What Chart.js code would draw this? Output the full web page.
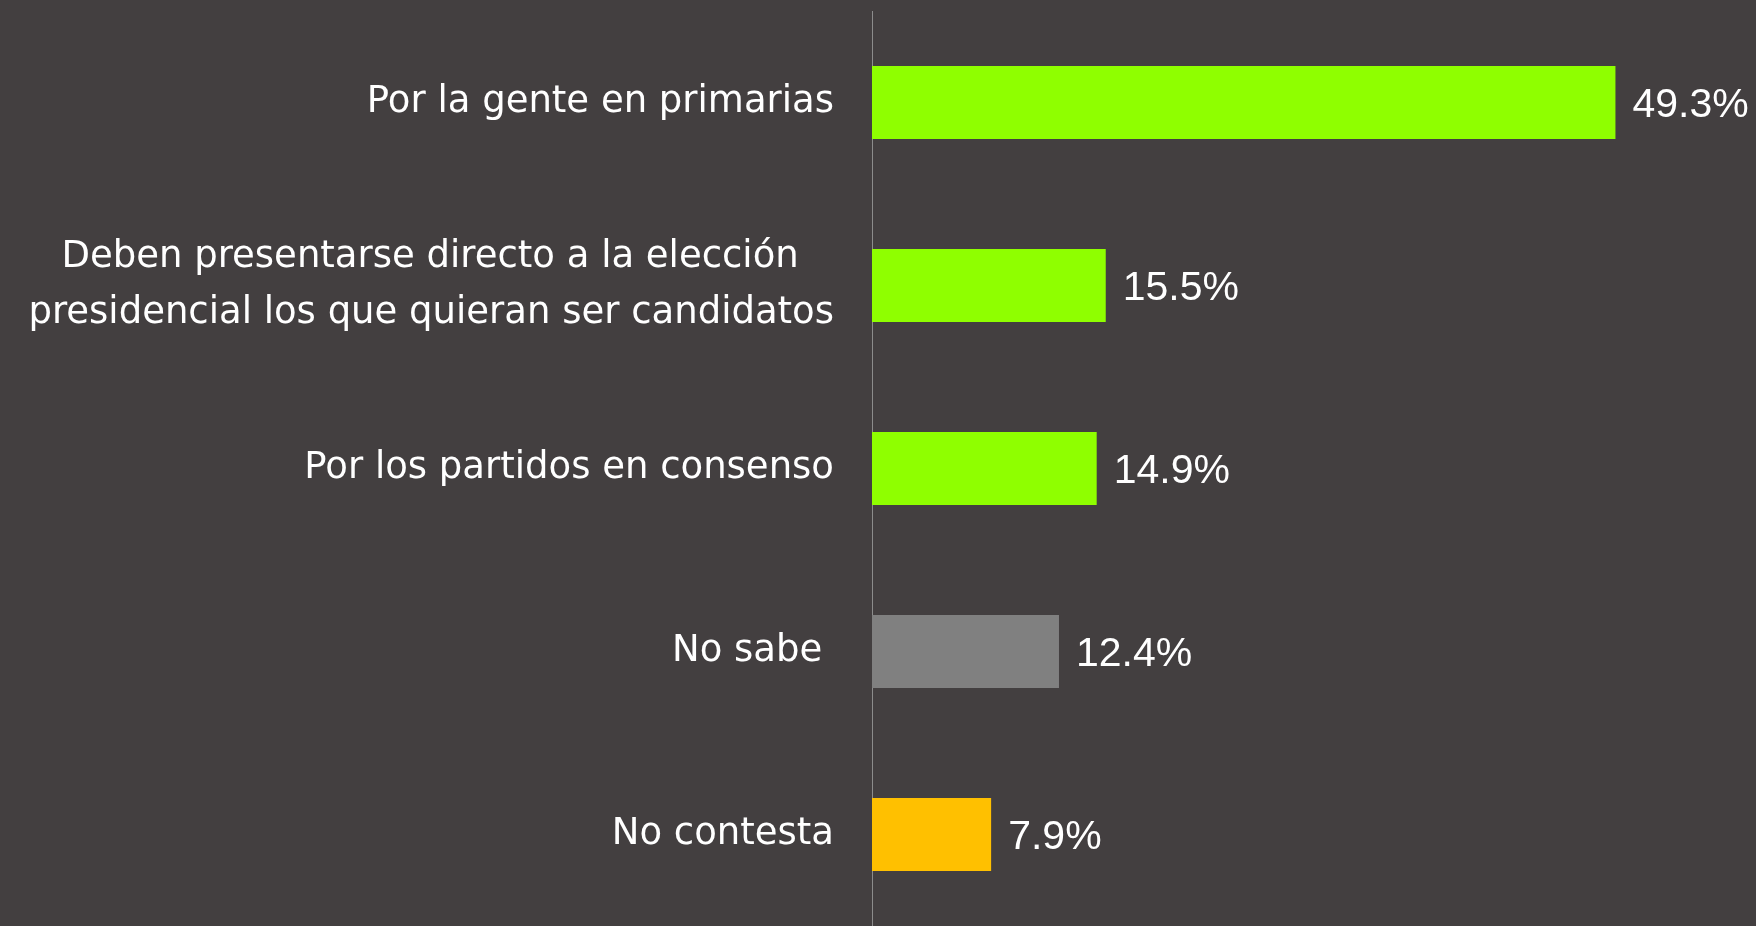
<!DOCTYPE html>
<html>
<head>
<meta charset="utf-8">
<script src="https://cdn.jsdelivr.net/npm/chart.js@4.4.1/dist/chart.umd.min.js"></script>
<style>
    html, body { margin: 0; padding: 0; background: #433f40; }
    #wrap { width: 1756px; height: 926px; }
</style>
</head>
<body>
<div id="wrap"><canvas id="pollChart"></canvas></div>
<script>
const categories = [
    'Por la gente en primarias',
    ['Deben presentarse directo a la elección   ', 'presidencial los que quieran ser candidatos'],
    'Por los partidos en consenso',
    'No sabe ',
    'No contesta'
];
const values = [49.3, 15.5, 14.9, 12.4, 7.9];
const barColors = ['#8fff00', '#8fff00', '#8fff00', '#808080', '#ffc000'];

const LABEL_FONT = '"DejaVu Sans", sans-serif';
const VALUE_FONT = '"Liberation Sans", Arial, sans-serif';

// value labels at the end of each bar
const valueLabels = {
    id: 'valueLabels',
    afterDatasetsDraw(chart) {
        const { ctx } = chart;
        const meta = chart.getDatasetMeta(0);
        ctx.save();
        ctx.fillStyle = '#ffffff';
        ctx.font = '41px ' + VALUE_FONT;
        ctx.textBaseline = 'middle';
        ctx.textAlign = 'left';
        meta.data.forEach((bar, i) => {
            ctx.fillText(values[i].toFixed(1) + '%', bar.x + 17, bar.y + 3);
        });
        ctx.restore();
    }
};

new Chart(document.getElementById('pollChart'), {
    type: 'bar',
    data: {
        labels: categories,
        datasets: [{
            data: values,
            backgroundColor: barColors,
            borderWidth: 0,
            barPercentage: 0.4,
            categoryPercentage: 1.0
        }]
    },
    options: {
        indexAxis: 'y',
        responsive: true,
        maintainAspectRatio: false,
        animation: false,
        layout: { padding: { top: 11, right: 130, bottom: 0, left: 0 } },
        scales: {
            x: { display: false, min: 0, max: 50 },
            y: {
                grid: { display: false },
                border: { display: true, color: '#8c8c8c', width: 1 },
                afterFit: (scale) => {
                    scale.width = 872;
                    scale.paddingTop = 0;
                    scale.paddingBottom = 0;
                },
                ticks: {
                    color: '#ffffff',
                    padding: 30,
                    font: { family: LABEL_FONT, size: 37, lineHeight: 1.51 }
                }
            }
        },
        plugins: {
            legend: { display: false },
            tooltip: { enabled: false }
        }
    },
    plugins: [valueLabels]
});
</script>
</body>
</html>
